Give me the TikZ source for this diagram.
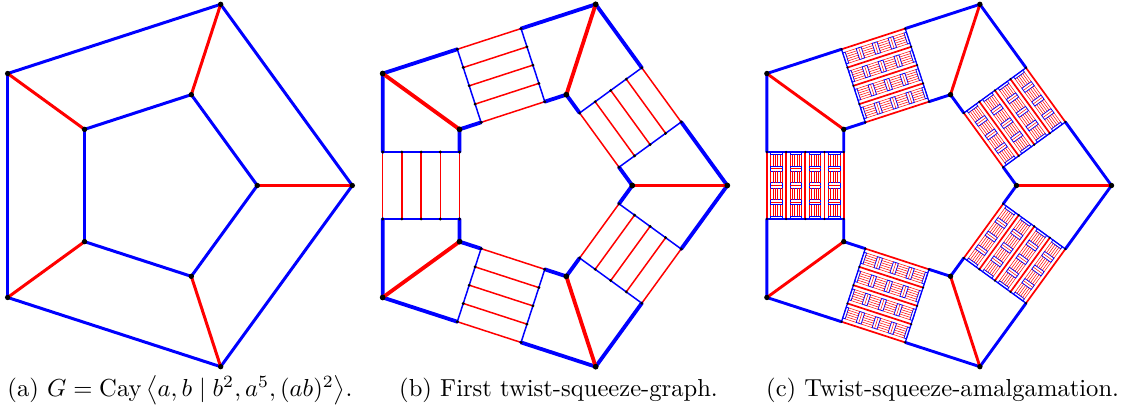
\documentclass[tikz,border=0pt]{standalone}
\usepackage{amsmath}
\def\Rout{190.5}
\def\Rin{95.5}
\def\Dout{154.12}
\def\Wd{76.86}
\def\hh{33.5}
\def\cc{19.215}
\begin{document}
\begin{tikzpicture}[x=1pt,y=1pt,
  edgeA/.style={line width=3pt,line cap=round},
  thb/.style={blue,line width=3.8pt,line cap=round},
  thr/.style={red,line width=3.8pt,line cap=round},
  thbc/.style={blue,line width=2.9pt,line cap=round},
  thrc/.style={red,line width=2.9pt,line cap=round},
  ladred/.style={red,line width=1.5pt},
  ladblue/.style={blue,line width=1.5pt},
  cred/.style={red,line width=1.7pt},
  cblue/.style={blue,line width=1.3pt},
  recblue/.style={blue,line width=0.8pt},
  thinred/.style={red,line width=0.5pt},
  capt/.style={anchor=base west,inner sep=0pt,scale=2.46}
]
\useasboundingbox (0,-417) rectangle (1125,0);

% ---------------- panel (a)
\begin{scope}[shift={(161.8pt,-185.5pt)}]
  \foreach \k in {0,...,4}{
    \coordinate (aO\k) at ({72*\k}:\Rout);
    \coordinate (aI\k) at ({72*\k}:\Rin);
  }
  \foreach \k in {0,...,4}{
    \pgfmathtruncatemacro\kn{mod(\k+1,5)}
    \draw[edgeA,blue] (aO\k) -- (aO\kn);
    \draw[edgeA,blue] (aI\k) -- (aI\kn);
  }
  \foreach \k in {0,...,4}{
    \draw[edgeA,red] (aO\k) -- (aI\k);
  }
  \foreach \k in {0,...,4}{
    \fill (aO\k) circle (2.7pt);
    \fill (aI\k) circle (2.7pt);
  }
\end{scope}

% ---------------- panel (b)
\begin{scope}[shift={(536.8pt,-185.5pt)}]
  \foreach \k in {0,...,4}{
    \coordinate (bO\k) at ({72*\k}:\Rout);
    \coordinate (bI\k) at ({72*\k}:\Rin);
  }
  \foreach \k in {0,...,4}{
    \begin{scope}[rotate={72*\k+36},xshift=\Dout pt,xscale=-1]
      \coordinate (bLOa\k) at (0,-\hh);
      \coordinate (bLOb\k) at (0,\hh);
      \coordinate (bLIa\k) at (\Wd,-\hh);
      \coordinate (bLIb\k) at (\Wd,\hh);
      \foreach \j in {0,...,4}{
        \coordinate (bR\k-\j-a) at ({\j*\Wd/4},-\hh);
        \coordinate (bR\k-\j-b) at ({\j*\Wd/4},\hh);
        \draw[ladred] (bR\k-\j-a) -- (bR\k-\j-b);
      }
      \draw[ladblue] (bLOa\k) -- (bLIa\k);
      \draw[ladblue] (bLOb\k) -- (bLIb\k);
    \end{scope}
  }
  \foreach \k in {0,...,4}{
    \pgfmathtruncatemacro\kn{mod(\k+1,5)}
    \draw[thb] (bO\k) -- (bLOa\k);
    \draw[thb] (bLOb\k) -- (bO\kn);
    \draw[thb] (bI\k) -- (bLIa\k);
    \draw[thb] (bLIb\k) -- (bI\kn);
  }
  \foreach \k in {0,...,4}{
    \draw[thr] (bO\k) -- (bI\k);
  }
  \foreach \k in {0,...,4}{
    \foreach \j in {0,...,4}{
      \fill (bR\k-\j-a) circle (1.6pt);
      \fill (bR\k-\j-b) circle (1.6pt);
    }
    \fill (bO\k) circle (2.9pt);
    \fill (bI\k) circle (2.9pt);
  }
\end{scope}

% ---------------- panel (c)
\begin{scope}[shift={(921pt,-185.5pt)}]
  \foreach \k in {0,...,4}{
    \coordinate (cO\k) at ({72*\k}:\Rout);
    \coordinate (cI\k) at ({72*\k}:\Rin);
  }
  \foreach \k in {0,...,4}{
    \begin{scope}[rotate={72*\k+36},xshift=\Dout pt,xscale=-1]
      \coordinate (cLOa\k) at (0,-\hh);
      \coordinate (cLOb\k) at (0,\hh);
      \coordinate (cLIa\k) at (\Wd,-\hh);
      \coordinate (cLIb\k) at (\Wd,\hh);
      \foreach \j in {0,...,3}{
        \pgfmathsetmacro\va{\j*\cc+0.2*\cc}
        \pgfmathsetmacro\vb{\j*\cc+0.8*\cc}
        \foreach \i in {0,...,4}{
          \pgfmathsetmacro\ui{-\hh+\i*\hh/2}
          \pgfmathsetmacro\ulo{max(-\hh,\ui-2.6)}
          \pgfmathsetmacro\uhi{min(\hh,\ui+2.6)}
          \draw[recblue] (\va,\ulo) rectangle (\vb,\uhi);
          \ifnum\i>0 \ifnum\i<4 \draw[thinred] (\va,\ui) -- (\vb,\ui); \fi\fi
        }
        \foreach \i in {0,...,3}{
          \pgfmathsetmacro\ufrom{-\hh+\i*\hh/2+2.6}
          \pgfmathsetmacro\uto{-\hh+(\i+1)*\hh/2-2.6}
          \foreach \m in {0,...,5}{
            \pgfmathsetmacro\vm{\j*\cc+\cc*(0.2+0.12*\m)}
            \draw[thinred] (\vm,\ufrom) -- (\vm,\uto);
          }
        }
      }
      \foreach \j in {0,...,4}{
        \coordinate (cR\k-\j-a) at ({\j*\Wd/4},-\hh);
        \coordinate (cR\k-\j-b) at ({\j*\Wd/4},\hh);
        \draw[cred] (cR\k-\j-a) -- (cR\k-\j-b);
      }
      \draw[cblue] (cLOa\k) -- (cLIa\k);
      \draw[cblue] (cLOb\k) -- (cLIb\k);
    \end{scope}
  }
  \foreach \k in {0,...,4}{
    \pgfmathtruncatemacro\kn{mod(\k+1,5)}
    \draw[thbc] (cO\k) -- (cLOa\k);
    \draw[thbc] (cLOb\k) -- (cO\kn);
    \draw[thbc] (cI\k) -- (cLIa\k);
    \draw[thbc] (cLIb\k) -- (cI\kn);
  }
  \foreach \k in {0,...,4}{
    \draw[thrc] (cO\k) -- (cI\k);
  }
  \foreach \k in {0,...,4}{
    \foreach \j in {0,...,4}{
      \fill (cR\k-\j-a) circle (1.2pt);
      \fill (cR\k-\j-b) circle (1.2pt);
    }
    \fill (cO\k) circle (2.7pt);
    \fill (cI\k) circle (2.7pt);
  }
\end{scope}

% ---------------- captions
\node[capt] (capa) at (7,-396) {(a) $G=\operatorname{Cay}\left\langle a,b \mid b^2,a^5,(ab)^2\right\rangle$.};
\node[capt] (capb) at (398.7,-396) {(b) First twist-squeeze-graph.};
\node[capt] (capc) at (765.7,-396) {(c) Twist-squeeze-amalgamation.};
\end{tikzpicture}
\end{document}
